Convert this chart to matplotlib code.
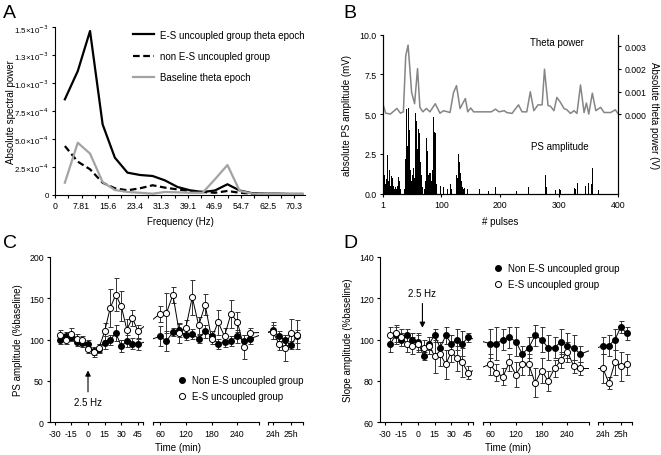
import numpy as np
import matplotlib.pyplot as plt
from matplotlib.lines import Line2D

plt.rcParams['font.family'] = ['Liberation Sans', 'DejaVu Sans']
plt.rcParams['font.size'] = 7
plt.rcParams['axes.linewidth'] = 0.8
plt.rcParams['xtick.major.width'] = 0.8
plt.rcParams['ytick.major.width'] = 0.8
plt.rcParams['xtick.minor.width'] = 0.8
plt.rcParams['xtick.major.size'] = 2.5
plt.rcParams['ytick.major.size'] = 2.5
plt.rcParams['xtick.minor.size'] = 2.5
plt.rcParams['xtick.labelsize'] = 6.3
plt.rcParams['ytick.labelsize'] = 6.3
plt.rcParams['xtick.major.pad'] = 2
plt.rcParams['ytick.major.pad'] = 2

# ---- A: spectral power
freq = [2.9, 6.7, 10.3, 14.0, 17.6, 21.3, 25.0, 28.7, 32.3, 36.0,
        39.7, 43.4, 47.0, 50.7, 54.3, 58.1, 61.7, 65.4, 69.0, 72.7]
es_theta = [0.856, 1.109, 1.467, 0.632, 0.334, 0.200, 0.179, 0.170, 0.131, 0.072,
            0.042, 0.027, 0.040, 0.096, 0.040, 0.015, 0.012, 0.012, 0.010, 0.010]
non_es = [0.438, 0.298, 0.230, 0.110, 0.060, 0.042, 0.060, 0.087, 0.066, 0.050,
          0.036, 0.027, 0.020, 0.036, 0.020, 0.012, 0.008, 0.008, 0.008, 0.008]
baseline = [0.110, 0.468, 0.370, 0.116, 0.045, 0.027, 0.020, 0.012, 0.027, 0.024,
            0.020, 0.020, 0.140, 0.268, 0.036, 0.012, 0.008, 0.008, 0.008, 0.008]
a_yticklabels = ['0', '2.5×10$^{-4}$', '5.0×10$^{-4}$', '7.5×10$^{-4}$',
                 '1.0×10$^{-3}$', '1.3×10$^{-3}$', '1.5×10$^{-3}$']
a_xticklabels = ['0', '7.81', '15.6', '23.4', '31.3', '39.1', '46.9', '54.7', '62.5', '70.3']

# ---- B: PS amplitude per pulse and theta power
ps_pulse = [1, 2, 3, 4, 5, 6, 7, 8, 9, 10, 11, 12, 13, 14, 15, 16, 17, 18, 19, 20,
            21, 22, 23, 24, 25, 26, 27, 28, 29, 30, 31, 32,
            38, 39, 40, 41, 42, 43, 44, 45, 46, 47, 48, 49, 50, 51, 52, 53, 54, 55,
            56, 57, 58, 59, 60, 61, 62, 63, 64, 65, 66, 67, 68, 69, 72, 74, 75, 76,
            77, 78, 79, 80, 81, 82, 83, 84, 85, 86, 87, 88, 89, 90, 91, 92,
            98, 99, 103, 104, 110, 111, 116, 117,
            126, 127, 128, 129, 130, 131, 132, 133, 134, 135, 136, 137, 138, 140, 142, 144,
            165, 180, 192, 228, 248, 276, 277, 278, 294, 300, 302, 326, 327, 331,
            345, 347, 350, 354, 356, 357, 366]
ps_amp = [3.5, 1.4, 0.8, 1.2, 0.4, 0.6, 0.35, 0.9, 2.45, 1.6, 0.8, 1.5, 0.9, 0.5, 0.4, 1.1, 0.6, 1.0, 0.5, 0.9,
          0.3, 0.85, 0.4, 0.3, 0.2, 0.5, 0.6, 1.05, 0.5, 0.8, 0.3, 0.2,
          0.3, 1.0, 2.2, 5.3, 1.4, 3.0, 1.0, 5.4, 2.3, 4.0, 1.5, 2.6, 0.8, 1.2, 0.5, 1.6, 2.8, 1.0,
          5.1, 2.0, 4.6, 1.1, 2.8, 4.1, 1.5, 3.8, 1.9, 2.0, 0.7, 1.2, 0.4, 0.2, 0.3, 0.8, 3.5, 1.0,
          2.7, 0.5, 1.2, 1.3, 0.5, 1.3, 0.4, 0.8, 1.5, 2.0, 4.85, 3.2, 3.85, 3.8, 1.5, 0.6,
          0.9, 0.5, 0.95, 0.4, 0.6, 0.3, 0.6, 0.3,
          1.2, 1.5, 1.0, 2.5, 1.4, 2.0, 1.5, 1.3, 0.8, 0.6, 0.4, 0.3, 0.3, 0.35, 0.3, 0.3,
          0.3, 0.15, 0.4, 0.15, 0.4, 0.3, 1.2, 0.4, 0.25, 0.3, 0.25, 0.35, 0.3, 0.7,
          0.5, 0.55, 0.7, 0.6, 1.6, 0.5, 0.25]
theta_pulse = [1, 6, 14, 25, 31, 36, 40, 44, 50, 55, 60, 64, 69, 75, 81, 90, 98, 104, 115, 121,
               126, 132, 141, 145, 150, 155, 170, 185, 192, 198, 207, 211, 220, 231, 237, 245,
               251, 257, 264, 271, 275, 281, 285, 291, 296, 302, 308, 313, 319, 325, 330, 336,
               342, 346, 350, 356, 362, 370, 376, 387, 395, 400]
theta_power = [0.49, 0.04, 0.0, 0.25, 0.04, 0.10, 2.58, 3.06, 0.96, 0.46, 2.02, 0.30, 0.10, 0.25,
               0.10, 0.46, 0.04, 0.15, 0.07, 0.96, 1.26, 0.25, 0.69, 0.10, 0.27, 0.10, 0.10, 0.10,
               0.22, 0.10, 0.15, 0.07, 0.03, 0.41, 0.10, 0.10, 0.99, 0.15, 0.41, 0.41, 1.99, 0.38,
               0.35, 0.15, 0.74, 0.52, 0.25, 0.19, 0.03, 0.15, 0.03, 1.29, 0.07, 0.49, 0.0, 0.93,
               0.15, 0.30, 0.07, 0.07, 0.19, 0.0]
theta_power = [v * 1e-3 for v in theta_power]

# ---- C / D: time courses (% baseline, mean and SEM)
early_min = [-25, -20, -15, -10, -5, 0, 5, 10, 15, 20, 25, 30, 35, 40, 45]
mid_min = [60, 75, 90, 105, 120, 135, 150, 165, 180, 195, 210, 225, 240, 255, 270]
day_h = [24.0, 24.33, 24.67, 25.0, 25.33]

c_non = [100, 104, 103, 97, 96, 95, 86, 89, 96, 99, 108, 92, 98, 95, 94,
         104, 98, 109, 111, 105, 107, 101, 110, 104, 95, 97, 98, 104, 98, 101,
         111, 104, 99, 93, 104]
c_non_sem = [6, 5, 5, 5, 5, 4, 5, 5, 8, 6, 10, 7, 7, 7, 7,
             12, 12, 5, 8, 6, 6, 5, 8, 6, 6, 6, 6, 8, 8, 7,
             10, 6, 6, 5, 8]
c_es = [105, 99, 107, 101, 99, 89, 85, 90, 110, 138, 154, 140, 112, 126, 110,
        131, 132, 154, 108, 114, 151, 117, 142, 101, 121, 104, 131, 121, 91, 108,
        109, 95, 90, 108, 106]
c_es_sem = [6, 5, 7, 6, 5, 5, 6, 5, 10, 23, 20, 18, 13, 10, 8,
            10, 24, 10, 12, 10, 21, 10, 13, 6, 15, 10, 17, 12, 15, 6,
            8, 8, 16, 17, 17]

d_non = [98, 102, 100, 102, 100, 99, 92, 98, 102, 96, 102, 98, 100, 98, 101,
         98, 98, 100, 101, 99, 93, 96, 102, 100, 96, 96, 99, 97, 96, 93,
         97, 97, 100, 106, 103]
d_non_sem = [4, 4, 3, 3, 3, 4, 2, 3, 3, 3, 4, 4, 5, 6, 2,
             7, 8, 5, 5, 7, 4, 5, 5, 6, 6, 5, 6, 6, 6, 4,
             4, 5, 5, 3, 3]
d_es = [102, 103, 101, 98, 97, 98, 96, 97, 92, 93, 88, 94, 91, 89, 84,
        88, 84, 82, 89, 83, 88, 88, 79, 85, 80, 86, 90, 94, 87, 86,
        86, 79, 89, 87, 88]
d_es_sem = [4, 4, 4, 4, 4, 4, 4, 4, 8, 6, 7, 5, 6, 7, 3,
            5, 4, 4, 4, 6, 5, 5, 7, 6, 5, 4, 4, 5, 3, 3,
            7, 3, 6, 7, 5]

W, H = 661, 456
fig = plt.figure(figsize=(W / 100, H / 100), dpi=100)


def axes_px(x0, y0, x1, y1):
    # pixel box (top-left origin) -> figure axes
    ax = fig.add_axes([x0 / W, 1 - y1 / H, (x1 - x0) / W, (y1 - y0) / H])
    ax.patch.set_visible(False)
    return ax


def clean(ax):
    ax.spines['top'].set_visible(False)
    ax.spines['right'].set_visible(False)


# ================= A
ax = axes_px(55, 28.3, 305, 196)
ax.plot(freq, es_theta, color='k', lw=1.6, label='E-S uncoupled group theta epoch')
ax.plot(freq, non_es, color='k', lw=1.6, ls=(0, (3, 1.6)), label='non E-S uncoupled group')
ax.plot(freq, baseline, color='#a3a3a3', lw=1.6, label='Baseline theta epoch')
ax.set_xlim(0, 73.5)
ax.set_ylim(0, 1.5)
ax.set_yticks([0, 0.25, 0.5, 0.75, 1.0, 1.25, 1.5])
ax.set_yticklabels(a_yticklabels, fontsize=5.8)
ax.set_xticks([7.8125 * k for k in range(10)])
ax.set_xticklabels(a_xticklabels)
ax.set_xticks([3.906 + 7.8125 * k for k in range(9)], minor=True)
clean(ax)
ax.set_xlabel('Frequency (Hz)', labelpad=4)
ax.set_ylabel('Absolute spectral power')
ax.yaxis.set_label_coords(-0.155, 0.5)
ax.legend(loc='upper left', bbox_to_anchor=(0.313, 0.985), frameon=False, borderpad=0,
          borderaxespad=0, handlelength=2.1, handletextpad=0.7, labelspacing=1.15, fontsize=7)
fig.text(3 / W, 1 - 18 / H, 'A', fontsize=14)

# ================= B
axb = axes_px(382.7, 35.7, 618.3, 194.7)
axb.bar(ps_pulse, ps_amp, width=1.3, color='k', linewidth=0)
axb.set_xlim(1, 400)
axb.set_ylim(0, 10)
axb.set_xticks([1, 100, 200, 300, 400])
axb.set_yticks([0, 2.5, 5, 7.5, 10])
axb.set_yticklabels(['0.0', '2.5', '5.0', '7.5', '10.0'])
axb.spines['top'].set_visible(False)
axb.set_xlabel('# pulses', labelpad=5)
axb.set_ylabel('absolute PS amplitude (mV)', labelpad=5)
axr = axb.twinx()
axr.plot(theta_pulse, theta_power, color='#858585', lw=1.1)
axr.set_ylim(-0.00353, 0.00352)
axr.set_yticks([0, 0.001, 0.002, 0.003])
axr.set_yticklabels(['0.000', '0.001', '0.002', '0.003'])
axr.spines['top'].set_visible(False)
axr.set_ylabel('Absolute theta power (V)', rotation=270, labelpad=9)
axb.text(0.74, 0.955, 'Theta power', transform=axb.transAxes, ha='center', va='center')
axb.text(0.75, 0.30, 'PS amplitude', transform=axb.transAxes, ha='center', va='center')
fig.text(343 / W, 1 - 18 / H, 'B', fontsize=14)

# ================= C / D
seg_lims = [(50, 143.5), (153, 259), (267.5, 302.5)]


def seg_pos(seg, t):
    t = np.asarray(t, float)
    if seg == 0:
        return 88 + 1.11 * t
    if seg == 1:
        return 160 + 0.43 * (t - 60)
    return 273 + 17.8 * (t - 24)


all_pos = np.concatenate([seg_pos(0, early_min), seg_pos(1, mid_min), seg_pos(2, day_h)])
seg_ticks = [(seg_pos(0, [-30, -15, 0, 15, 30, 45]), ['-30', '-15', '0', '15', '30', '45']),
             (seg_pos(1, [60, 120, 180, 240]), ['60', '120', '180', '240']),
             (seg_pos(2, [24, 25]), ['24h', '25h'])]


def broken_panel(x_off, non_m, non_s, es_m, es_s, ylim, yticks, ylabel):
    axs = []
    for i, (a, b) in enumerate(seg_lims):
        ax = axes_px(x_off + a, 257.7, x_off + b, 423.3)
        ax.errorbar(all_pos, non_m, yerr=non_s, fmt='-o', color='k', ms=4, lw=0.7,
                    elinewidth=0.7, capsize=1.8, capthick=0.7, ecolor='#333333')
        ax.errorbar(all_pos, es_m, yerr=es_s, fmt='-o', color='k', mfc='white', mec='k',
                    mew=0.7, ms=4.4, lw=0.7, elinewidth=0.7, capsize=1.8, capthick=0.7,
                    ecolor='#333333')
        ax.set_xlim(a, b)
        ax.set_ylim(*ylim)
        ax.spines['top'].set_visible(False)
        ax.spines['right'].set_visible(False)
        ax.set_xticks(seg_ticks[i][0])
        ax.set_xticklabels(seg_ticks[i][1])
        ax.set_xticks([b] if i == 0 else [a, b], minor=True)
        if i == 0:
            ax.set_yticks(yticks)
            ax.set_ylabel(ylabel, labelpad=4)
        else:
            ax.spines['left'].set_visible(False)
            ax.set_yticks([])
        axs.append(ax)
    fig.text((x_off + 178) / W, 1 - 448 / H, 'Time (min)', ha='center', va='center')
    return axs


c_axes = broken_panel(0, c_non, c_non_sem, c_es, c_es_sem, (0, 200), [0, 50, 100, 150, 200],
                      'PS amplitude (%baseline)')
c_axes[0].annotate('2.5 Hz', xy=(seg_pos(0, 0), 66), xytext=(seg_pos(0, 0), 24),
                   ha='center', va='center',
                   arrowprops=dict(arrowstyle='-|>', color='k', lw=0.8, mutation_scale=8))
fig.text(3 / W, 1 - 248 / H, 'C', fontsize=14)

d_axes = broken_panel(330, d_non, d_non_sem, d_es, d_es_sem, (60, 140), [60, 80, 100, 120, 140],
                      'Slope amplitude (%baseline)')
d_axes[0].annotate('2.5 Hz', xy=(seg_pos(0, 4), 104.3), xytext=(seg_pos(0, 4), 122.5),
                   ha='center', va='center',
                   arrowprops=dict(arrowstyle='-|>', color='k', lw=0.8, mutation_scale=8))
fig.text(343 / W, 1 - 248 / H, 'D', fontsize=14)

handles = [Line2D([], [], marker='o', ls='none', mfc='k', mec='k', ms=4),
           Line2D([], [], marker='o', ls='none', mfc='white', mec='k', mew=0.7, ms=4.4)]
labels = ['Non E-S uncoupled group', 'E-S uncoupled group']
fig.legend(handles, labels, loc='center left', bbox_to_anchor=(177 / W, 1 - 389 / H),
           frameon=False, borderpad=0, borderaxespad=0, handlelength=1,
           handletextpad=0.5, labelspacing=0.6, fontsize=7)
fig.legend(handles, labels, loc='center left', bbox_to_anchor=(493.5 / W, 1 - 277 / H),
           frameon=False, borderpad=0, borderaxespad=0, handlelength=1,
           handletextpad=0.5, labelspacing=0.6, fontsize=7)

fig.savefig('out.png', dpi=100)
